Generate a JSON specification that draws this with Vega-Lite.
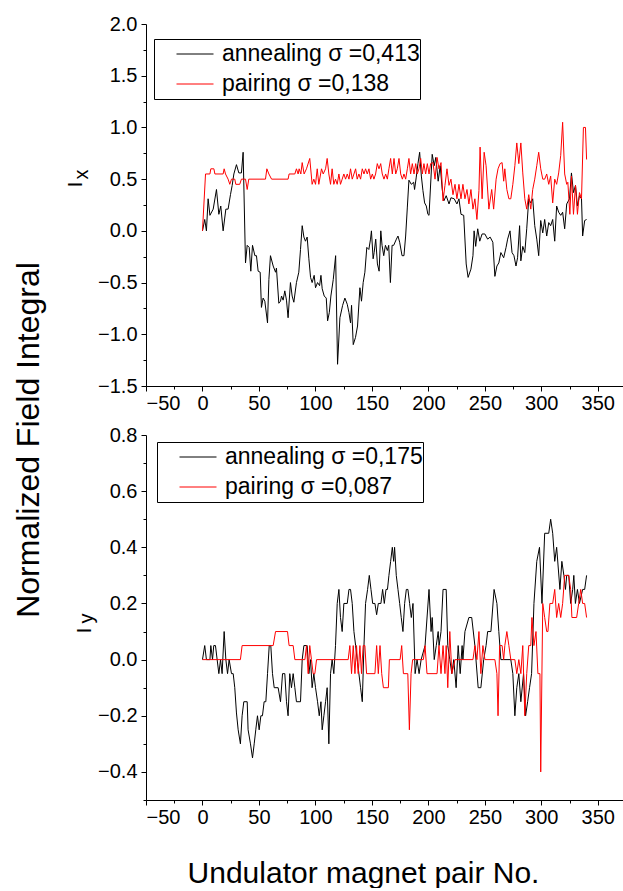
{
"$schema": "https://vega.github.io/schema/vega-lite/v6.json",
"padding": {"left": 12, "top": 14, "right": 0, "bottom": 0},
"title": {"text": "Normalized Field Integral", "orient": "left", "anchor": "middle", "fontSize": 32, "font": "Liberation Sans", "fontWeight": "normal", "color": "black", "offset": 19, "dx": 11},
"datasets": {
"ax": [{"n":0,"v":0},{"n":2,"v":0.11},{"n":3.5,"v":0},{"n":5,"v":0.31},{"n":6.6,"v":0.15},{"n":9.5,"v":0.21},{"n":12.4,"v":0.4},{"n":14.5,"v":0.16},{"n":16.2,"v":0.24},{"n":18.3,"v":0},{"n":20.7,"v":0.21},{"n":22.7,"v":0.21},{"n":24.8,"v":0.35},{"n":26.3,"v":0.44},{"n":27.8,"v":0.55},{"n":30.1,"v":0.64},{"n":32.2,"v":0.56},{"n":34.5,"v":0.56},{"n":36,"v":0.76},{"n":38.1,"v":-0.31},{"n":39.6,"v":-0.14},{"n":41.4,"v":-0.16},{"n":42.8,"v":-0.39},{"n":44.3,"v":-0.14},{"n":46.4,"v":-0.24},{"n":47.8,"v":-0.24},{"n":49.3,"v":-0.39},{"n":51.1,"v":-0.4},{"n":52.2,"v":-0.74},{"n":53.7,"v":-0.65},{"n":55.2,"v":-0.68},{"n":57.6,"v":-0.89},{"n":58.8,"v":-0.47},{"n":60.2,"v":-0.24},{"n":62.6,"v":-0.34},{"n":64.7,"v":-0.4},{"n":65.5,"v":-0.36},{"n":67.6,"v":-0.7},{"n":69.1,"v":-0.68},{"n":70,"v":-0.63},{"n":71.4,"v":-0.67},{"n":72.9,"v":-0.58},{"n":74.4,"v":-0.67},{"n":75.8,"v":-0.84},{"n":77.9,"v":-0.5},{"n":79.4,"v":-0.63},{"n":80.9,"v":-0.69},{"n":83.2,"v":-0.5},{"n":85.3,"v":-0.4},{"n":86.8,"v":-0.18},{"n":88.3,"v":0.05},{"n":89.8,"v":-0.06},{"n":91.2,"v":-0.1},{"n":92.7,"v":-0.06},{"n":94.2,"v":-0.27},{"n":95.7,"v":-0.45},{"n":97.1,"v":-0.5},{"n":98.9,"v":-0.43},{"n":100.1,"v":-0.55},{"n":101.9,"v":-0.5},{"n":103.7,"v":-0.53},{"n":104.9,"v":-0.43},{"n":106,"v":-0.56},{"n":107.8,"v":-0.63},{"n":109.6,"v":-0.65},{"n":110.8,"v":-0.87},{"n":112.3,"v":-0.79},{"n":113.7,"v":-0.63},{"n":115.8,"v":-0.47},{"n":117.9,"v":-0.24},{"n":119.6,"v":-1.29},{"n":121.7,"v":-0.84},{"n":124.1,"v":-0.72},{"n":126.1,"v":-0.65},{"n":128.2,"v":-0.71},{"n":129.7,"v":-0.79},{"n":131.1,"v":-0.89},{"n":132,"v":-0.72},{"n":133.5,"v":-1.1},{"n":135.5,"v":-1.03},{"n":137.3,"v":-0.92},{"n":139.4,"v":-0.55},{"n":140.8,"v":-0.68},{"n":142.3,"v":-0.5},{"n":143.8,"v":-0.4},{"n":145.5,"v":-0.16},{"n":147.3,"v":-0.18},{"n":148.8,"v":-0.08},{"n":149.6,"v":0},{"n":151.1,"v":-0.27},{"n":152,"v":-0.21},{"n":153.4,"v":-0.08},{"n":154.9,"v":-0.32},{"n":156.4,"v":-0.39},{"n":157.9,"v":0},{"n":159,"v":-0.14},{"n":160.5,"v":-0.24},{"n":162,"v":-0.14},{"n":163.7,"v":-0.19},{"n":164.9,"v":-0.14},{"n":166.4,"v":-0.5},{"n":167.9,"v":-0.14},{"n":169.3,"v":-0.14},{"n":171.7,"v":-0.08},{"n":173.1,"v":-0.05},{"n":174.6,"v":-0.11},{"n":176.7,"v":-0.24},{"n":178.4,"v":-0.24},{"n":179.9,"v":-0.05},{"n":181.4,"v":0.23},{"n":182.8,"v":0.49},{"n":184.9,"v":0.45},{"n":187,"v":0.47},{"n":187.8,"v":0.4},{"n":189.3,"v":0.52},{"n":190.8,"v":0.65},{"n":192.3,"v":0.76},{"n":193.8,"v":0.53},{"n":195.2,"v":0.39},{"n":196.7,"v":0.27},{"n":198.2,"v":0.24},{"n":199.6,"v":0.16},{"n":200.6,"v":0.15},{"n":203.4,"v":0.74},{"n":205.2,"v":0.63},{"n":206.6,"v":0.71},{"n":208.7,"v":0.48},{"n":210.5,"v":0.63},{"n":212.3,"v":0.4},{"n":213.7,"v":0.29},{"n":215.8,"v":0.34},{"n":218.3,"v":0.26},{"n":220,"v":0.32},{"n":222.9,"v":0.31},{"n":225.3,"v":0.26},{"n":227.1,"v":0.31},{"n":228.9,"v":0.16},{"n":231.3,"v":0.15},{"n":233.5,"v":-0.32},{"n":235.2,"v":-0.45},{"n":237.7,"v":-0.37},{"n":239.5,"v":-0.24},{"n":240.5,"v":0},{"n":241.9,"v":-0.15},{"n":243.7,"v":0.02},{"n":245.5,"v":-0.1},{"n":247.6,"v":-0.03},{"n":250,"v":-0.03},{"n":252.5,"v":-0.08},{"n":254.7,"v":-0.06},{"n":257.1,"v":-0.11},{"n":258.9,"v":-0.44},{"n":260.7,"v":-0.34},{"n":262.4,"v":-0.31},{"n":264.2,"v":-0.21},{"n":266.7,"v":-0.26},{"n":268.8,"v":-0.16},{"n":270.2,"v":-0.08},{"n":272.3,"v":0},{"n":274.1,"v":-0.21},{"n":275.8,"v":-0.24},{"n":277.6,"v":-0.34},{"n":279,"v":-0.26},{"n":280.8,"v":0.05},{"n":281.9,"v":-0.29},{"n":283.6,"v":-0.15},{"n":285.4,"v":-0.21},{"n":287.1,"v":0.02},{"n":288.9,"v":0.31},{"n":290.7,"v":0.27},{"n":292.4,"v":0.31},{"n":294.2,"v":0.05},{"n":296,"v":-0.08},{"n":297.7,"v":-0.24},{"n":299.5,"v":0.1},{"n":301.3,"v":-0.02},{"n":303,"v":0.11},{"n":304.8,"v":-0.05},{"n":306.6,"v":0.08},{"n":308.3,"v":0.05},{"n":310.1,"v":0.11},{"n":311.9,"v":-0.1},{"n":313.6,"v":0.24},{"n":315.4,"v":0.18},{"n":317.2,"v":0.15},{"n":318.9,"v":0.18},{"n":320.7,"v":0.02},{"n":322.5,"v":0.26},{"n":325,"v":0.31},{"n":326.7,"v":0.56},{"n":328.5,"v":0.37},{"n":330.3,"v":0.44},{"n":332,"v":0.24},{"n":333.8,"v":0.34},{"n":335.6,"v":0.31},{"n":336.6,"v":-0.05},{"n":338.4,"v":0.1},{"n":340.1,"v":0.11}],
"px": [{"n":0,"v":0},{"n":2.7,"v":0.55},{"n":6.6,"v":0.55},{"n":7.4,"v":0.6},{"n":10.1,"v":0.6},{"n":11,"v":0.55},{"n":18.3,"v":0.55},{"n":19.2,"v":0.6},{"n":20.4,"v":0.55},{"n":22.7,"v":0.5},{"n":24.2,"v":0.45},{"n":25.7,"v":0.5},{"n":28.6,"v":0.5},{"n":29.5,"v":0.45},{"n":33,"v":0.45},{"n":34.5,"v":0.5},{"n":38.1,"v":0.5},{"n":39.6,"v":0.4},{"n":41,"v":0.5},{"n":55.8,"v":0.5},{"n":57,"v":0.6},{"n":58.8,"v":0.55},{"n":61.2,"v":0.5},{"n":75.8,"v":0.5},{"n":76.7,"v":0.55},{"n":81.8,"v":0.55},{"n":83.2,"v":0.6},{"n":84.7,"v":0.55},{"n":85.6,"v":0.6},{"n":87.1,"v":0.55},{"n":88.3,"v":0.66},{"n":90,"v":0.55},{"n":92.1,"v":0.6},{"n":95,"v":0.7},{"n":97.1,"v":0.45},{"n":98.6,"v":0.5},{"n":100.1,"v":0.45},{"n":101.6,"v":0.6},{"n":103,"v":0.45},{"n":105.4,"v":0.6},{"n":106.9,"v":0.55},{"n":109,"v":0.6},{"n":110.4,"v":0.7},{"n":111.9,"v":0.55},{"n":113.4,"v":0.45},{"n":114.8,"v":0.6},{"n":116.3,"v":0.45},{"n":117.8,"v":0.5},{"n":119.3,"v":0.45},{"n":120.8,"v":0.55},{"n":122.2,"v":0.45},{"n":123.7,"v":0.5},{"n":125.2,"v":0.55},{"n":126.7,"v":0.5},{"n":128.2,"v":0.55},{"n":129.7,"v":0.5},{"n":131.1,"v":0.6},{"n":132.6,"v":0.5},{"n":134.1,"v":0.55},{"n":135.6,"v":0.6},{"n":137,"v":0.5},{"n":138.5,"v":0.55},{"n":140,"v":0.5},{"n":141.5,"v":0.6},{"n":143,"v":0.55},{"n":144.4,"v":0.6},{"n":145.9,"v":0.55},{"n":147.4,"v":0.6},{"n":148.9,"v":0.5},{"n":150.4,"v":0.55},{"n":151.8,"v":0.5},{"n":153.3,"v":0.55},{"n":154.8,"v":0.65},{"n":156.3,"v":0.6},{"n":157.8,"v":0.65},{"n":159.2,"v":0.55},{"n":160.7,"v":0.5},{"n":162.2,"v":0.55},{"n":163.7,"v":0.5},{"n":165.1,"v":0.6},{"n":166.6,"v":0.7},{"n":168.1,"v":0.55},{"n":169.6,"v":0.7},{"n":171.1,"v":0.55},{"n":172.5,"v":0.6},{"n":174,"v":0.7},{"n":175.5,"v":0.55},{"n":177,"v":0.5},{"n":178.4,"v":0.55},{"n":179.9,"v":0.5},{"n":181.4,"v":0.6},{"n":182.8,"v":0.7},{"n":184.3,"v":0.55},{"n":185.8,"v":0.65},{"n":187.3,"v":0.55},{"n":188.8,"v":0.65},{"n":190.2,"v":0.55},{"n":191.7,"v":0.6},{"n":193.2,"v":0.7},{"n":194.7,"v":0.55},{"n":196.1,"v":0.65},{"n":197.6,"v":0.55},{"n":199.1,"v":0.65},{"n":200.6,"v":0.55},{"n":202,"v":0.65},{"n":204.1,"v":0.66},{"n":205.9,"v":0.5},{"n":207.7,"v":0.71},{"n":209.4,"v":0.6},{"n":211.2,"v":0.66},{"n":213,"v":0.29},{"n":214.7,"v":0.44},{"n":216.5,"v":0.6},{"n":218.3,"v":0.44},{"n":220,"v":0.5},{"n":221.8,"v":0.35},{"n":223.6,"v":0.45},{"n":225.3,"v":0.31},{"n":227.1,"v":0.45},{"n":228.9,"v":0.31},{"n":230.6,"v":0.45},{"n":232.4,"v":0.31},{"n":234.2,"v":0.4},{"n":235.9,"v":0.26},{"n":237.7,"v":0.4},{"n":239.5,"v":0.21},{"n":241.2,"v":0.31},{"n":243,"v":0.11},{"n":244.8,"v":0.39},{"n":245.8,"v":0.81},{"n":247.6,"v":0.31},{"n":249.4,"v":0.76},{"n":251.1,"v":0.63},{"n":253.6,"v":0.21},{"n":256.1,"v":0.4},{"n":257.8,"v":0.21},{"n":260,"v":0.5},{"n":261.7,"v":0.6},{"n":263.5,"v":0.65},{"n":265.3,"v":0.66},{"n":266.7,"v":0.48},{"n":267.7,"v":0.6},{"n":269.5,"v":0.4},{"n":271.3,"v":0.31},{"n":273,"v":0.31},{"n":274.8,"v":0.45},{"n":276.6,"v":0.63},{"n":278.3,"v":0.85},{"n":280.1,"v":0.65},{"n":281.9,"v":0.85},{"n":283.6,"v":0.56},{"n":285.4,"v":0.31},{"n":287.1,"v":0.21},{"n":288.9,"v":0.35},{"n":290.7,"v":0.21},{"n":292.4,"v":0.4},{"n":294.2,"v":0.5},{"n":296,"v":0.63},{"n":297.7,"v":0.76},{"n":299.5,"v":0.6},{"n":301.3,"v":0.5},{"n":303,"v":0.5},{"n":304.8,"v":0.55},{"n":306.6,"v":0.45},{"n":308.3,"v":0.53},{"n":310.1,"v":0.27},{"n":311.9,"v":0.5},{"n":313.6,"v":0.45},{"n":315.4,"v":0.56},{"n":317.2,"v":0.73},{"n":318.9,"v":1.05},{"n":320.7,"v":0.55},{"n":322.5,"v":0.45},{"n":323.5,"v":0.47},{"n":325.3,"v":0.16},{"n":326.7,"v":0.53},{"n":328.5,"v":0.16},{"n":330.3,"v":0.44},{"n":332,"v":0.16},{"n":333.8,"v":0.37},{"n":335.6,"v":0.31},{"n":337.3,"v":1.0},{"n":339.1,"v":1.0},{"n":340.1,"v":0.69}],
"ay": [{"n":0,"v":0},{"n":2,"v":0.05},{"n":3.5,"v":0},{"n":6.6,"v":0},{"n":7.4,"v":0.05},{"n":8.9,"v":0},{"n":10,"v":0.05},{"n":11.5,"v":0.05},{"n":13,"v":0},{"n":14.5,"v":-0.05},{"n":16,"v":0},{"n":17.4,"v":-0.05},{"n":19.2,"v":0.1},{"n":20.7,"v":0},{"n":22.2,"v":-0.05},{"n":23.6,"v":0},{"n":25.7,"v":-0.05},{"n":27.2,"v":-0.05},{"n":28.6,"v":-0.1},{"n":30.1,"v":-0.19},{"n":31.6,"v":-0.25},{"n":33.6,"v":-0.3},{"n":35.1,"v":-0.2},{"n":36.6,"v":-0.15},{"n":39.6,"v":-0.15},{"n":40.4,"v":-0.25},{"n":42.5,"v":-0.3},{"n":44.3,"v":-0.35},{"n":45.8,"v":-0.3},{"n":47.2,"v":-0.25},{"n":48.7,"v":-0.2},{"n":50.2,"v":-0.25},{"n":51.7,"v":-0.2},{"n":53.1,"v":-0.2},{"n":54.6,"v":-0.15},{"n":56.1,"v":-0.15},{"n":57.6,"v":-0.05},{"n":59.1,"v":0.05},{"n":60.5,"v":0.05},{"n":62,"v":-0.05},{"n":63.5,"v":-0.1},{"n":67,"v":-0.1},{"n":69.1,"v":-0.15},{"n":70.9,"v":-0.05},{"n":72.9,"v":-0.05},{"n":74.4,"v":-0.15},{"n":75.8,"v":-0.2},{"n":77.3,"v":-0.05},{"n":78.8,"v":-0.1},{"n":80.3,"v":-0.05},{"n":81.8,"v":-0.1},{"n":83.2,"v":-0.15},{"n":86.8,"v":-0.15},{"n":88.3,"v":0},{"n":89.8,"v":0.05},{"n":92.7,"v":0.05},{"n":94.2,"v":-0.05},{"n":95.7,"v":0},{"n":97.1,"v":-0.1},{"n":98.6,"v":-0.05},{"n":100.1,"v":-0.1},{"n":101.9,"v":-0.15},{"n":103.4,"v":-0.2},{"n":104.9,"v":-0.15},{"n":106,"v":-0.25},{"n":107.5,"v":-0.2},{"n":109,"v":-0.15},{"n":110.4,"v":-0.1},{"n":111.9,"v":-0.3},{"n":113.4,"v":-0.05},{"n":114.8,"v":0},{"n":116.3,"v":-0.05},{"n":117.8,"v":0.05},{"n":119.3,"v":0.2},{"n":120.8,"v":0.25},{"n":122.2,"v":0.15},{"n":123.7,"v":0.1},{"n":125.2,"v":0.2},{"n":128.2,"v":0.2},{"n":129.7,"v":0.25},{"n":131.1,"v":0.25},{"n":132.6,"v":0.2},{"n":134.1,"v":0.1},{"n":135.6,"v":0.05},{"n":137,"v":0},{"n":138.5,"v":-0.05},{"n":140,"v":-0.1},{"n":141.5,"v":-0.15},{"n":143,"v":0.05},{"n":144.4,"v":0.2},{"n":146.2,"v":0.25},{"n":147.7,"v":0.3},{"n":149.2,"v":0.25},{"n":150.7,"v":0.2},{"n":152.7,"v":0.2},{"n":154.2,"v":0.16},{"n":155.7,"v":0.2},{"n":158,"v":0.2},{"n":159.5,"v":0.25},{"n":161,"v":0.2},{"n":162.5,"v":0.25},{"n":163.8,"v":0.25},{"n":165.1,"v":0.3},{"n":166.6,"v":0.35},{"n":168.1,"v":0.4},{"n":169.3,"v":0.35},{"n":170.1,"v":0.4},{"n":171.6,"v":0.3},{"n":173.1,"v":0.25},{"n":174.6,"v":0.2},{"n":176,"v":0.15},{"n":177.5,"v":0.1},{"n":179,"v":0.2},{"n":180.5,"v":0.25},{"n":181.9,"v":0.25},{"n":183.4,"v":0.2},{"n":184.9,"v":0.15},{"n":186.4,"v":0.2},{"n":188.3,"v":-0.05},{"n":190,"v":0},{"n":191.8,"v":-0.05},{"n":193.6,"v":0},{"n":197.1,"v":0.05},{"n":200.6,"v":0.25},{"n":202.4,"v":0.1},{"n":203.4,"v":0.15},{"n":205.2,"v":0},{"n":207,"v":0.05},{"n":208.7,"v":0.1},{"n":209.5,"v":0.05},{"n":211.2,"v":0.1},{"n":213,"v":0.25},{"n":215.8,"v":0.25},{"n":217.2,"v":0.05},{"n":219,"v":0},{"n":220.8,"v":-0.05},{"n":222.5,"v":0},{"n":224.6,"v":-0.1},{"n":226.4,"v":0.05},{"n":228.2,"v":-0.05},{"n":229.9,"v":0.05},{"n":230.6,"v":0},{"n":232.4,"v":0.1},{"n":235.9,"v":0.15},{"n":238.4,"v":0.15},{"n":241.2,"v":0.05},{"n":244.1,"v":-0.1},{"n":246.5,"v":-0.1},{"n":249,"v":0},{"n":251.1,"v":0.05},{"n":252.5,"v":0.1},{"n":255.4,"v":0.1},{"n":258.2,"v":0.25},{"n":260.7,"v":0.2},{"n":262.4,"v":0.1},{"n":264.2,"v":0},{"n":273,"v":0},{"n":274.8,"v":-0.05},{"n":276.6,"v":-0.2},{"n":278.3,"v":-0.1},{"n":280.1,"v":-0.05},{"n":281.9,"v":-0.15},{"n":284.3,"v":-0.05},{"n":286.1,"v":-0.2},{"n":287.9,"v":-0.15},{"n":289.6,"v":-0.1},{"n":291.4,"v":-0.05},{"n":293.5,"v":0.2},{"n":296,"v":0.35},{"n":298.4,"v":0.4},{"n":300.6,"v":0.2},{"n":303,"v":0.45},{"n":306.6,"v":0.45},{"n":308.3,"v":0.5},{"n":310.1,"v":0.45},{"n":311.9,"v":0.35},{"n":313.6,"v":0.4},{"n":316.5,"v":0.25},{"n":318.2,"v":0.35},{"n":320,"v":0.3},{"n":321.4,"v":0.25},{"n":322.5,"v":0.3},{"n":324.3,"v":0.3},{"n":326,"v":0.2},{"n":327.8,"v":0.25},{"n":328.8,"v":0.3},{"n":330.2,"v":0.2},{"n":332,"v":0.25},{"n":333.8,"v":0.2},{"n":336.6,"v":0.25},{"n":338.4,"v":0.25},{"n":340.1,"v":0.3}],
"py": [{"n":0,"v":0},{"n":33.6,"v":0},{"n":35.1,"v":0.05},{"n":62.6,"v":0.05},{"n":64.7,"v":0.1},{"n":75.3,"v":0.1},{"n":76.7,"v":0.05},{"n":80.3,"v":0.05},{"n":81.8,"v":0},{"n":90.7,"v":0},{"n":92.1,"v":0.05},{"n":93.6,"v":-0.05},{"n":95,"v":0.05},{"n":96.5,"v":0},{"n":98,"v":-0.05},{"n":99.5,"v":-0.05},{"n":101,"v":0},{"n":129,"v":0},{"n":130.5,"v":0.05},{"n":132,"v":-0.05},{"n":133.5,"v":0.05},{"n":135,"v":-0.05},{"n":136.4,"v":0.05},{"n":137.9,"v":-0.05},{"n":139.4,"v":0.05},{"n":140.8,"v":-0.05},{"n":142.3,"v":0.05},{"n":143.8,"v":0.05},{"n":145.3,"v":-0.05},{"n":152.7,"v":-0.05},{"n":154.2,"v":0.05},{"n":155.7,"v":-0.05},{"n":157.2,"v":0.05},{"n":158.7,"v":-0.05},{"n":160.2,"v":-0.1},{"n":164.6,"v":-0.1},{"n":165.5,"v":0},{"n":175,"v":0},{"n":176.4,"v":0.05},{"n":177.9,"v":-0.05},{"n":181.8,"v":-0.05},{"n":183.2,"v":-0.25},{"n":184.7,"v":-0.05},{"n":186.1,"v":0},{"n":195.6,"v":0},{"n":197.1,"v":0.05},{"n":198.8,"v":-0.05},{"n":207.7,"v":-0.05},{"n":209.4,"v":0.05},{"n":211.2,"v":-0.05},{"n":213,"v":0.05},{"n":214.7,"v":-0.05},{"n":215.8,"v":0.05},{"n":217.2,"v":-0.1},{"n":219,"v":0.1},{"n":220.8,"v":-0.05},{"n":223.6,"v":0},{"n":239.5,"v":0},{"n":241.2,"v":0.05},{"n":243,"v":0},{"n":244.8,"v":0.1},{"n":246.5,"v":-0.05},{"n":248.3,"v":0.05},{"n":250.1,"v":0},{"n":258.9,"v":0},{"n":260.7,"v":-0.05},{"n":261.7,"v":-0.2},{"n":263.1,"v":0.05},{"n":265.3,"v":0.05},{"n":266.7,"v":0},{"n":267.7,"v":0.05},{"n":269.5,"v":0.1},{"n":271.3,"v":0.05},{"n":273,"v":0},{"n":276.6,"v":0},{"n":278.3,"v":-0.05},{"n":280.1,"v":0},{"n":281.9,"v":-0.05},{"n":283.6,"v":0.05},{"n":285.4,"v":-0.2},{"n":287.1,"v":-0.05},{"n":288.9,"v":0.05},{"n":290.7,"v":0.05},{"n":291.7,"v":0.15},{"n":293.5,"v":0.05},{"n":295.3,"v":0.1},{"n":297,"v":-0.05},{"n":298.8,"v":-0.05},{"n":299.5,"v":-0.4},{"n":301.3,"v":0.2},{"n":303,"v":0.15},{"n":304.8,"v":0.1},{"n":305.9,"v":0.1},{"n":307.6,"v":0.2},{"n":310.1,"v":0.2},{"n":311.9,"v":0.25},{"n":313.6,"v":0.15},{"n":315.4,"v":0.2},{"n":317.2,"v":0.15},{"n":318.9,"v":0.2},{"n":320.7,"v":0.3},{"n":324.3,"v":0.3},{"n":326,"v":0.25},{"n":327.1,"v":0.15},{"n":331.3,"v":0.15},{"n":333.1,"v":0.2},{"n":334.9,"v":0.25},{"n":336.6,"v":0.2},{"n":338.4,"v":0.2},{"n":340.1,"v":0.15}]
},
"vconcat": [
{
"width": 480, "height": 362,
"layer": [
{"data": {"name": "ax"}, "mark": {"type": "line", "strokeWidth": 1},
"encoding": {
"x": {"field": "n", "type": "quantitative", "scale": {"domain": [-50, 375], "nice": false, "zero": false},
"axis": {"orient": "bottom", "values": [-50, 0, 50, 100, 150, 200, 250, 300, 350], "title": null, "tickSize": 5, "labelFontSize": 20, "labelPadding": 2}},
"y": {"field": "v", "type": "quantitative", "scale": {"domain": [-1.5, 2], "nice": false, "zero": false},
"axis": {"orient": "left", "values": [-1.5, -1, -0.5, 0, 0.5, 1, 1.5, 2], "format": ".1f", "title": "I", "titleX": -65, "titleY": 160, "titleAngle": 270, "titleAlign": "center", "titleBaseline": "alphabetic", "titleFontSize": 20, "tickSize": 5, "labelFontSize": 20, "labelPadding": 4}},
"color": {"datum": "annealing σ =0,413", "type": "nominal",
"scale": {"domain": ["annealing σ =0,413", "pairing σ =0,138"], "range": ["#000000", "#ff0000"]},
"legend": {"orient": "none", "legendX": 8, "legendY": 15, "title": null, "symbolType": "stroke", "symbolSize": 1369, "symbolStrokeWidth": 1, "clipHeight": 30, "rowPadding": 0, "padding": 0, "symbolOffset": 22, "labelOffset": 8, "labelFontSize": 23, "labelLimit": 400, "fillColor": "white", "strokeColor": "black"}}
}},
{"data": {"name": "px"}, "mark": {"type": "line", "strokeWidth": 1},
"encoding": {
"x": {"field": "n", "type": "quantitative",
"axis": {"orient": "bottom", "values": [-25, 25, 75, 125, 175, 225, 275, 325], "labels": false, "title": null, "tickSize": 3, "domain": false}},
"y": {"field": "v", "type": "quantitative",
"axis": {"orient": "left", "values": [-1.25, -0.75, -0.25, 0.25, 0.75, 1.25, 1.75], "labels": false, "domain": false, "tickSize": 3, "title": "x", "titleX": -59, "titleY": 150, "titleAngle": 270, "titleAlign": "center", "titleBaseline": "alphabetic", "titleFontSize": 20}},
"color": {"datum": "pairing σ =0,138", "type": "nominal"}
}}
],
"resolve": {"axis": {"x": "independent", "y": "independent"}}
},
{
"width": 480, "height": 365,
"layer": [
{"data": {"name": "ay"}, "mark": {"type": "line", "strokeWidth": 1},
"encoding": {
"x": {"field": "n", "type": "quantitative", "scale": {"domain": [-50, 375], "nice": false, "zero": false},
"axis": {"orient": "bottom", "values": [-50, 0, 50, 100, 150, 200, 250, 300, 350], "title": "Undulator magnet pair No.", "titleFontSize": 30, "titleX": 217, "titleY": 82, "titleAlign": "center", "titleBaseline": "alphabetic", "tickSize": 5, "labelFontSize": 20, "labelPadding": 2}},
"y": {"field": "v", "type": "quantitative", "scale": {"domain": [-0.5, 0.8], "nice": false, "zero": false},
"axis": {"orient": "left", "values": [-0.4, -0.2, 0, 0.2, 0.4, 0.6, 0.8], "format": ".1f", "title": "I", "titleX": -56, "titleY": 195, "titleAngle": 270, "titleAlign": "center", "titleBaseline": "alphabetic", "titleFontSize": 20, "tickSize": 5, "labelFontSize": 20, "labelPadding": 4}},
"color": {"datum": "annealing σ =0,175", "type": "nominal",
"scale": {"domain": ["annealing σ =0,175", "pairing σ =0,087"], "range": ["#000000", "#ff0000"]},
"legend": {"orient": "none", "legendX": 11, "legendY": 7, "title": null, "symbolType": "stroke", "symbolSize": 1369, "symbolStrokeWidth": 1, "clipHeight": 30, "rowPadding": 0, "padding": 0, "symbolOffset": 22, "labelOffset": 8, "labelFontSize": 23, "labelLimit": 400, "fillColor": "white", "strokeColor": "black"}}
}},
{"data": {"name": "py"}, "mark": {"type": "line", "strokeWidth": 1},
"encoding": {
"x": {"field": "n", "type": "quantitative",
"axis": {"orient": "bottom", "values": [-25, 25, 75, 125, 175, 225, 275, 325], "labels": false, "title": null, "tickSize": 3, "domain": false}},
"y": {"field": "v", "type": "quantitative",
"axis": {"orient": "left", "values": [-0.5, -0.3, -0.1, 0.1, 0.3, 0.5, 0.7], "labels": false, "domain": false, "tickSize": 3, "title": "y", "titleX": -54, "titleY": 183, "titleAngle": 270, "titleAlign": "center", "titleBaseline": "alphabetic", "titleFontSize": 20}},
"color": {"datum": "pairing σ =0,087", "type": "nominal"}
}}
],
"resolve": {"axis": {"x": "independent", "y": "independent"}}
}
],
"spacing": 12,
"resolve": {"scale": {"x": "independent", "y": "independent", "color": "independent"}, "legend": {"color": "independent"}},
"config": {
"font": "Liberation Sans",
"view": {"stroke": null},
"axis": {"grid": false, "domainColor": "#000000", "tickColor": "#000000", "labelColor": "#000000", "titleColor": "#000000", "labelFont": "Liberation Sans", "titleFont": "Liberation Sans", "titleFontWeight": "normal", "domainWidth": 1, "tickWidth": 1},
"legend": {"labelFont": "Liberation Sans", "labelColor": "#000000"}
}
}
